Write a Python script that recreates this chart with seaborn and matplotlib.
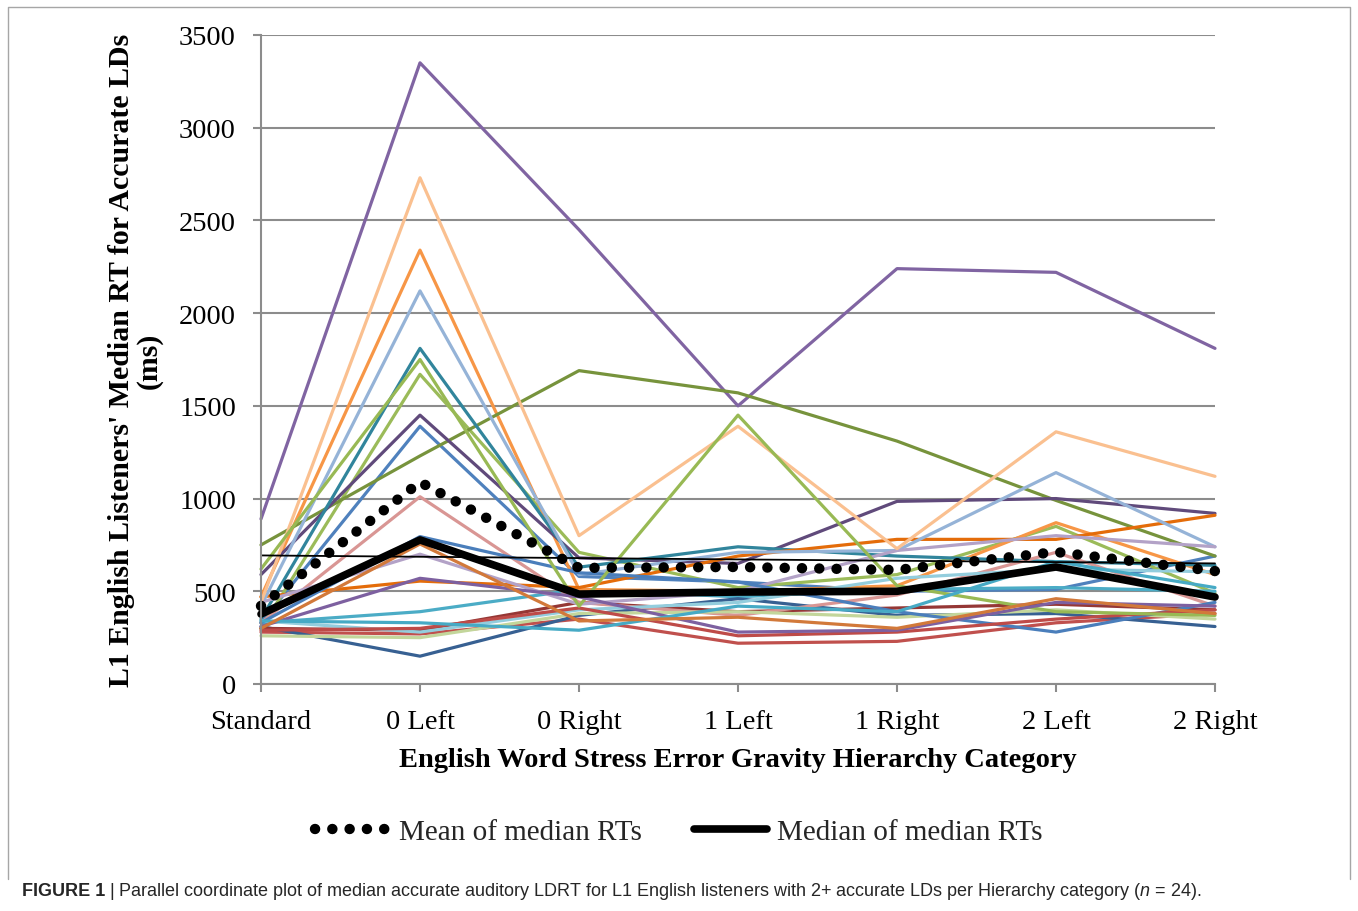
import numpy as np
import pandas as pd
import matplotlib
matplotlib.use("Agg")
import matplotlib.pyplot as plt
import seaborn as sns
from matplotlib.lines import Line2D

# Hierarchy categories on the x axis
categories = ["Standard", "0 Left", "0 Right", "1 Left", "1 Right", "2 Left", "2 Right"]

# Median accurate RT (ms) for each L1 English listener, one value per category
p01 = [330, 1390, 580, 550, 500, 510, 690]
p02 = [280, 270, 350, 220, 230, 330, 380]
p03 = [300, 1670, 710, 520, 590, 850, 490]
p04 = [890, 3350, 2450, 1500, 2240, 2220, 1810]
p05 = [330, 390, 510, 470, 510, 520, 500]
p06 = [470, 2340, 510, 500, 530, 870, 590]
p07 = [310, 150, 370, 460, 370, 380, 310]
p08 = [300, 290, 440, 390, 410, 430, 400]
p09 = [750, 1230, 1690, 1570, 1310, 990, 690]
p10 = [590, 1450, 680, 650, 985, 1000, 920]
p11 = [350, 1810, 630, 740, 690, 660, 640]
p12 = [470, 555, 520, 690, 780, 780, 910]
p13 = [420, 2120, 590, 710, 720, 1140, 740]
p14 = [330, 1010, 440, 370, 480, 710, 420]
p15 = [260, 250, 380, 390, 360, 400, 350]
p16 = [440, 700, 430, 500, 720, 800, 740]
p17 = [340, 280, 400, 440, 570, 620, 605]
p18 = [440, 2730, 800, 1390, 730, 1360, 1120]
p19 = [330, 795, 600, 550, 390, 280, 440]
p20 = [290, 300, 410, 260, 280, 350, 400]
p21 = [620, 1750, 420, 1450, 530, 390, 370]
p22 = [310, 570, 470, 280, 290, 440, 420]
p23 = [340, 330, 290, 420, 390, 660, 520]
p24 = [300, 755, 340, 360, 300, 460, 380]

# Summary series across listeners
mean_rt = [421, 1089, 626, 631, 615, 712, 609]
median_rt = [377, 777, 485, 496, 500, 631, 469]

listeners = [p01, p02, p03, p04, p05, p06, p07, p08, p09, p10, p11, p12,
             p13, p14, p15, p16, p17, p18, p19, p20, p21, p22, p23, p24]
colors = ["#4F81BD", "#C0504D", "#9BBB59", "#8064A2", "#4BACC6", "#F79646",
          "#376092", "#953735", "#77933C", "#604A7B", "#31859C", "#E46C0A",
          "#95B3D7", "#D99694", "#C3D69B", "#B3A2C7", "#93CDDD", "#FAC090",
          "#4A7EBB", "#BE4B48", "#98B954", "#7D60A0", "#46AAC5", "#D2793A"]
ids = [f"L{i + 1:02d}" for i in range(len(listeners))]

df = pd.DataFrame(
    [(pid, j, v) for pid, vals in zip(ids, listeners) for j, v in enumerate(vals)],
    columns=["listener", "pos", "rt"],
)
summary = pd.DataFrame({"pos": np.arange(len(categories)),
                        "mean": mean_rt, "median": median_rt})
trend = np.polyval(np.polyfit(summary["pos"], summary["mean"], 1), summary["pos"])

sns.set_theme(style="white")
plt.rcParams["font.family"] = ["Liberation Serif", "DejaVu Serif"]
plt.rcParams["mathtext.fontset"] = "custom"
plt.rcParams["mathtext.rm"] = "Liberation Sans"
plt.rcParams["mathtext.it"] = "Liberation Sans:italic"

W, H = 1358, 912
fig = plt.figure(figsize=(W / 100, H / 100), dpi=100)
fig.patch.set_facecolor("white")
ax = fig.add_axes([261 / W, 1 - 685 / H, (1215 - 261) / W, (685 - 36) / H])

grid_c = "#8c8c8c"

sns.lineplot(data=df, x="pos", y="rt", hue="listener", hue_order=ids,
             palette=dict(zip(ids, colors)), estimator=None, sort=False,
             linewidth=2.3, legend=False, ax=ax)

sns.lineplot(x=summary["pos"], y=trend, color="black", linewidth=1.3, ax=ax)
sns.lineplot(x=summary["pos"], y=summary["mean"], color="black", ax=ax)
mean_line = ax.lines[-1]
mean_line.set_linewidth(7.5)
mean_line.set_linestyle((0, (0.01, 1.65)))
mean_line.set_dash_capstyle("round")
sns.lineplot(x=summary["pos"], y=summary["median"], color="black",
             linewidth=5.5, ax=ax)

for ln in ax.lines:
    ln.set_clip_on(False)

ax.set_xlim(0, len(categories) - 1)
ax.set_ylim(0, 3500)
ax.set_xticks(summary["pos"])
ax.set_xticklabels(categories)
ax.set_yticks(np.arange(0, 3501, 500))

ax.yaxis.grid(True, color=grid_c, linewidth=1.5)
ax.xaxis.grid(False)
ax.set_axisbelow(True)
for side in ["top", "right"]:
    ax.spines[side].set_visible(False)
for side in ["left", "bottom"]:
    ax.spines[side].set_color(grid_c)
    ax.spines[side].set_linewidth(1.5)

ax.tick_params(axis="both", bottom=True, left=True, direction="out",
               length=6, width=1.5, color=grid_c, labelsize=20.5,
               labelcolor="black")
ax.tick_params(axis="y", pad=12)
ax.tick_params(axis="x", pad=12)

ax.set_xlabel("English Word Stress Error Gravity Hierarchy Category",
              fontsize=20.5, fontweight="bold", color="black")
ax.xaxis.set_label_coords(0.5, -0.097)
ax.set_ylabel("L1 English Listeners' Median RT for Accurate LDs\n(ms)",
              fontsize=21.5, fontweight="bold", color="black", linespacing=1.0)
ax.yaxis.set_label_coords(-0.103, 0.5)

handles = [
    Line2D([], [], color="black", linewidth=7.5, linestyle=(0, (0.01, 1.65)),
           dash_capstyle="round"),
    Line2D([], [], color="black", linewidth=5.5),
]
fig.legend(handles, ["Mean of median RTs", "Median of median RTs"],
           loc="center", bbox_to_anchor=(0.5, 1 - 833 / H), ncol=2,
           frameon=False, fontsize=21, handlelength=2.5, handletextpad=0.35,
           columnspacing=1.8)

# Frame around the chart panel (open at the bottom)
fig.add_artist(Line2D([8 / W, 8 / W, 1350 / W, 1350 / W],
                      [1 - 880 / H, 1 - 8 / H, 1 - 8 / H, 1 - 880 / H],
                      transform=fig.transFigure, color="#a6a6a6", linewidth=1.0))

cap_y = 1 - 892 / H
t1 = fig.text(22 / W, cap_y, "FIGURE 1", family="Liberation Sans",
              fontweight="bold", fontsize=13, va="center", ha="left")
fig.canvas.draw()
bb = t1.get_window_extent()
fig.text((bb.x1 + 4) / W, cap_y,
         "| Parallel coordinate plot of median accurate auditory LDRT for L1 "
         "English listeners with 2+ accurate LDs per Hierarchy category "
         "($n$ = 24).",
         family="Liberation Sans", fontsize=13, va="center", ha="left")

fig.savefig("out.png", dpi=100, facecolor="white")
